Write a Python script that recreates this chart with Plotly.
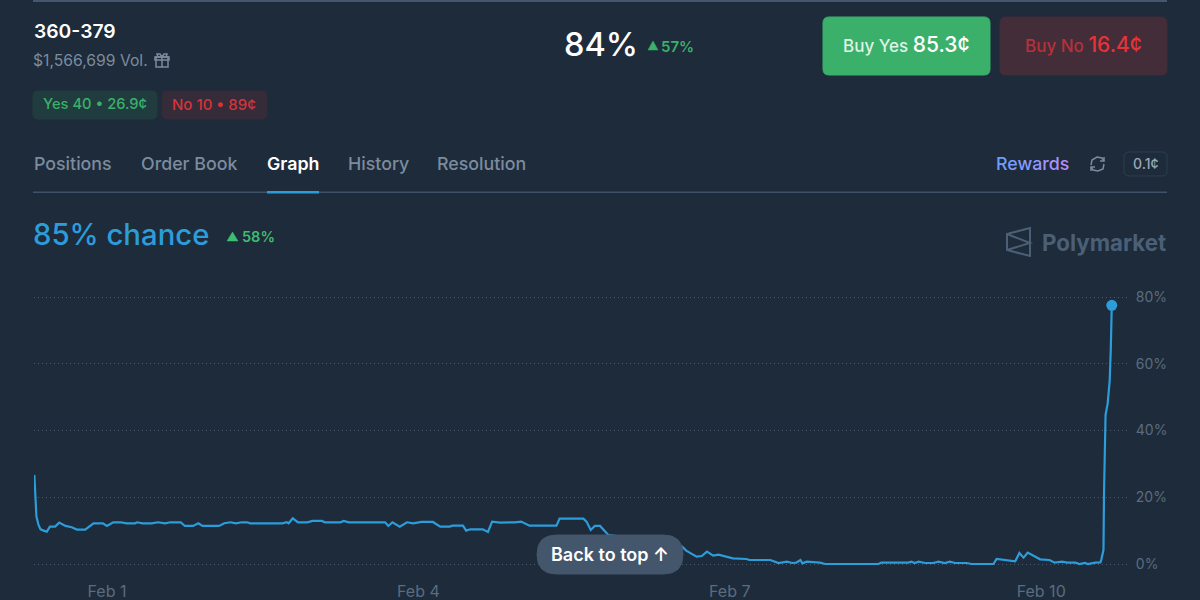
"""Polymarket 360-379 market panel, redrawn with Plotly."""

import pandas as pd
import plotly.graph_objects as go

W, H = 1200, 600

# days since Feb 1, price in percent
days = [
    -0.70, -0.69, -0.68, -0.66, -0.64, -0.61, -0.58, -0.55, -0.50, -0.46, -0.40, -0.34, -0.29, -0.21, -0.13, -0.04,
    0.00, 0.06, 0.13, 0.19, 0.27, 0.29, 0.34, 0.43, 0.49, 0.56, 0.61, 0.71, 0.75, 0.83, 0.88, 0.92,
    1.08, 1.13, 1.19, 1.24, 1.30, 1.35, 1.38, 1.69, 1.73, 1.75, 1.79, 1.84, 1.93, 1.98,
    2.07, 2.10, 2.25, 2.28, 2.33, 2.68, 2.71, 2.75, 2.82, 2.89, 2.95,
    3.03, 3.14, 3.21, 3.30, 3.33, 3.43, 3.46, 3.50, 3.62, 3.67, 3.71, 3.79, 3.93, 3.99,
    4.07, 4.33, 4.36, 4.59, 4.62, 4.66, 4.70, 4.75, 4.83, 5.20, 5.54, 5.58, 5.68, 5.73, 5.78, 5.84, 5.89,
    6.03, 6.16, 6.19, 6.39, 6.47, 6.55, 6.60, 6.64, 6.68, 6.70, 6.74, 6.87, 6.92,
    7.43, 7.46, 7.72, 7.75, 7.78, 7.82, 7.88, 7.96,
    8.01, 8.07, 8.12, 8.17, 8.28, 8.33, 8.54, 8.57, 8.62, 8.72, 8.75, 8.79, 8.83, 8.87, 8.99,
    9.08, 9.13, 9.20, 9.25, 9.33, 9.37, 9.42, 9.45, 9.52, 9.57, 9.58, 9.60, 9.605, 9.61, 9.62, 9.64, 9.66, 9.67, 9.68,
]
prices = [
    26.7, 20.2, 14.2, 11.7, 10.4, 10.0, 9.7, 11.2, 11.2, 12.4, 11.4, 11.0, 10.3, 10.3, 12.2, 12.2,
    11.4, 12.5, 12.5, 12.2, 12.2, 12.5, 12.2, 12.2, 12.5, 12.2, 12.5, 12.5, 11.4, 11.4, 12.2, 11.4,
    11.4, 12.2, 12.5, 12.2, 12.5, 12.5, 12.2, 12.2, 12.5, 12.2, 13.7, 12.5, 12.5, 12.9,
    12.9, 12.5, 12.5, 12.9, 12.5, 12.5, 11.4, 12.5, 11.2, 12.5, 12.2,
    12.6, 12.6, 11.2, 11.2, 11.5, 11.5, 10.0, 10.4, 10.4, 9.6, 12.7, 12.4, 12.5, 12.7,
    11.5, 11.5, 13.6, 13.6, 12.7, 10.2, 11.4, 11.4, 8.7, 6.8, 5.2, 4.0, 2.2, 2.4, 3.7, 2.5, 2.8,
    1.7, 1.5, 1.2, 1.2, 0.3, 0.7, 0.3, 0.4, 1.2, 0.2, 0.7, 0.4, 0.0,
    0.0, 0.4, 0.4, 0.7, 0.3, 0.7, 0.3, 0.3,
    0.7, 0.3, 0.7, 0.3, 0.3, 0.0, 0.0, 1.5, 1.3, 1.1, 0.8, 3.3, 1.9, 3.4, 1.4,
    1.2, 0.4, 0.7, 0.4, 0.4, 0.0, 0.3, 0.0, 0.4, 0.5, 1.4, 4.2, 21.0, 30.0, 44.7, 48.0, 55.0, 64.0, 77.5,
]
tick_days = [0, 3, 6, 9]
tick_labels = ["Feb 1", "Feb 4", "Feb 7", "Feb 10"]
y_ticks = [0, 20, 40, 60, 80]

BG = "#1d2b3a"
BLUE = "#2d9cdb"
GREEN = "#3ab06a"
RED = "#d5333a"
MUTED = "#7c8b9e"
FONT = "Inter"


def px(x):
    return x / W


def py(y):
    return 1 - y / H


def path(points, close=True):
    body = " L ".join(f"{px(x):.5f} {py(y):.5f}" for x, y in points)
    return "M " + body + (" Z" if close else "")


def rounded(x0, y0, x1, y1, r):
    # quadratic corners are close enough at this size
    c = lambda x, y: f"{px(x):.5f} {py(y):.5f}"
    return (
        f"M {c(x0 + r, y0)} L {c(x1 - r, y0)} Q {c(x1, y0)} {c(x1, y0 + r)} "
        f"L {c(x1, y1 - r)} Q {c(x1, y1)} {c(x1 - r, y1)} "
        f"L {c(x0 + r, y1)} Q {c(x0, y1)} {c(x0, y1 - r)} "
        f"L {c(x0, y0 + r)} Q {c(x0, y0)} {c(x0 + r, y0)} Z"
    )


def box(x0, y0, x1, y1, r, fill, line=None):
    return dict(
        type="path", xref="paper", yref="paper", path=rounded(x0, y0, x1, y1, r),
        fillcolor=fill, line=dict(color=line or fill, width=1), layer="above",
    )


def stroke(points, color, width=1.5, close=False):
    return dict(
        type="path", xref="paper", yref="paper", path=path(points, close),
        line=dict(color=color, width=width), layer="above",
    )


def solid(points, color):
    return dict(
        type="path", xref="paper", yref="paper", path=path(points),
        fillcolor=color, line=dict(color=color, width=0.5), layer="above",
    )


def label(x, y, text, size, color, weight=400, anchor="left"):
    return dict(
        x=px(x), y=py(y), xref="paper", yref="paper", text=text, showarrow=False,
        xanchor=anchor, yanchor="middle", borderpad=0,
        font=dict(family=FONT, size=size, color=color, weight=weight),
    )


start = pd.Timestamp("2025-02-01")
times = start + pd.to_timedelta(days, unit="D")
tick_times = start + pd.to_timedelta(tick_days, unit="D")

fig = go.Figure()
fig.add_trace(go.Scatter(
    x=times, y=prices, mode="lines", line=dict(color=BLUE, width=2.2), hoverinfo="skip",
))
fig.add_trace(go.Scatter(
    x=times[-1:], y=prices[-1:], mode="markers", marker=dict(color=BLUE, size=11), hoverinfo="skip",
))

shapes = [
    dict(type="rect", xref="paper", yref="paper", x0=px(33), x1=px(1167), y0=py(2), y1=py(0),
         fillcolor="#43566c", line_width=0, layer="below"),
    dict(type="rect", xref="paper", yref="paper", x0=px(33), x1=px(1167), y0=py(193), y1=py(191.5),
         fillcolor="#3f5267", line_width=0, layer="below"),
    dict(type="rect", xref="paper", yref="paper", x0=px(267), x1=px(319), y0=py(193.5), y1=py(191),
         fillcolor=BLUE, line_width=0, layer="above"),
    box(33, 91, 157, 119, 5, "#213c3f"),
    box(162, 91, 267, 119, 5, "#352b39"),
    box(823, 17, 990, 75, 6, GREEN),
    box(1000, 17, 1167, 75, 6, "#432d38"),
    box(1124, 152, 1167, 176, 5, BG, "#2f3f51"),
    box(537, 535, 683, 574, 19.5, "#44566b"),
    solid([(648, 50), (653, 41), (658, 50)], GREEN),
    solid([(227, 241), (232.5, 232), (238, 241)], "#3dbd72"),
    # gift icon
    stroke([(156, 57), (168, 57), (168, 67), (156, 67)], MUTED, close=True),
    stroke([(155, 57), (155, 60), (169, 60), (169, 57)], MUTED, close=True),
    stroke([(162, 55), (162, 67)], MUTED),
    stroke([(158, 57), (157, 54), (160, 54), (162, 57), (164, 54), (167, 54), (166, 57)], MUTED),
    # refresh icon
    stroke([(1091, 165), (1092, 160), (1097, 157), (1102, 158), (1104, 161)], MUTED),
    stroke([(1104, 157), (1104, 161), (1100, 161)], MUTED),
    stroke([(1104, 164), (1103, 169), (1098, 171), (1093, 170), (1091, 167)], MUTED),
    stroke([(1091, 171), (1091, 167), (1095, 167)], MUTED),
    # Polymarket logo
    stroke([(1007, 234), (1030, 228), (1030, 256), (1007, 250)], "#4b5f76", 2, close=True),
    stroke([(1007, 234), (1030, 243), (1007, 250)], "#4b5f76", 2),
]

rewards_colors = ["#6f9dfb", "#7b9bfb", "#879afb", "#9397fb", "#a093fb", "#ad8ffb", "#b98bfb"]
rewards = "".join(f'<span style="color:{c}">{ch}</span>' for ch, c in zip("Rewards", rewards_colors))

annotations = [
    label(33, 31, "360-379", 19.3, "#ffffff", 600),
    label(32, 60.5, "$1,566,699 Vol.", 15.7, MUTED),
    label(42, 104, "Yes 40 • 26.9¢", 14.7, GREEN, 500),
    label(171, 104, "No 10 • 89¢", 15, RED, 500),
    label(563, 45, "84%", 32.5, "#ffffff", 500),
    label(660, 46, "57%", 15, GREEN, 600),
    label(906, 45, 'Buy Yes <span style="font-size:21px;color:#ffffff">85.3¢</span>', 17, "#dff3e7", 500, "center"),
    label(1083, 45, 'Buy No <span style="font-size:21px;color:#e5333a">16.4¢</span>', 17, "#b5323a", 500, "center"),
    label(33, 163, "Positions", 17.8, MUTED, 500),
    label(140, 163, "Order Book", 17.8, MUTED, 500),
    label(266, 163, "Graph", 17.8, "#ffffff", 600),
    label(347, 163, "History", 17.8, MUTED, 500),
    label(436, 163, "Resolution", 17.8, MUTED, 500),
    label(995, 163, rewards, 17.8, "#879afb", 500),
    label(1132, 163, "0.1¢", 14, "#9aa7b6", 500),
    label(32, 235, "85% chance", 29.3, BLUE, 500),
    label(241, 236, "58%", 14.5, "#3dbd72", 600),
    label(1041, 242.5, "Polymarket", 22.3, "#4b5f76", 700),
    label(550, 554, "Back to top ↑", 18, "#ffffff", 600),
]

# axis frame: 0% sits on 564 px, 80% on 297 px, Feb 1 on 107 px, Feb 4 on 418 px
plot_left, plot_right, plot_top, plot_bottom = 34, 1127, 280, 580
per_day = 103.8
per_pct = 3.3375
x_range = [start + pd.Timedelta(days=(plot_left - 107) / per_day), start + pd.Timedelta(days=(plot_right - 107) / per_day)]
y_range = [(564 - plot_bottom) / per_pct, (564 - plot_top) / per_pct]

fig.update_layout(
    width=W,
    height=H,
    margin=dict(l=0, r=0, t=0, b=0),
    autosize=False,
    showlegend=False,
    paper_bgcolor=BG,
    plot_bgcolor=BG,
    shapes=shapes,
    annotations=annotations,
    font=dict(family=FONT),
    xaxis=dict(
        domain=[px(plot_left), px(plot_right)],
        range=x_range,
        type="date",
        automargin=False,
        tickvals=tick_times,
        ticktext=tick_labels,
        showgrid=False,
        showline=False,
        zeroline=False,
        ticks="",
        ticklen=0,
        tickfont=dict(family=FONT, size=16, color="#5b6b80"),
    ),
    yaxis=dict(
        domain=[py(plot_bottom), py(plot_top)],
        range=y_range,
        side="right",
        automargin=False,
        tickvals=y_ticks,
        ticktext=[f"{v}%" for v in y_ticks],
        showgrid=True,
        griddash="1px,3px",
        gridcolor="#4a5a6e",
        gridwidth=1,
        zeroline=False,
        showline=False,
        ticks="outside",
        ticklen=5,
        tickcolor="rgba(0,0,0,0)",
        tickfont=dict(family=FONT, size=14, color="#5b6b80"),
    ),
)

# the browser's default body margin would push the chart off the window
fig.write_html(
    "out.html",
    config=dict(displayModeBar=False),
    post_script=(
        "document.body.style.margin='0';"
        "document.documentElement.style.overflow='hidden';"
        "document.body.style.overflow='hidden';"
    ),
)
